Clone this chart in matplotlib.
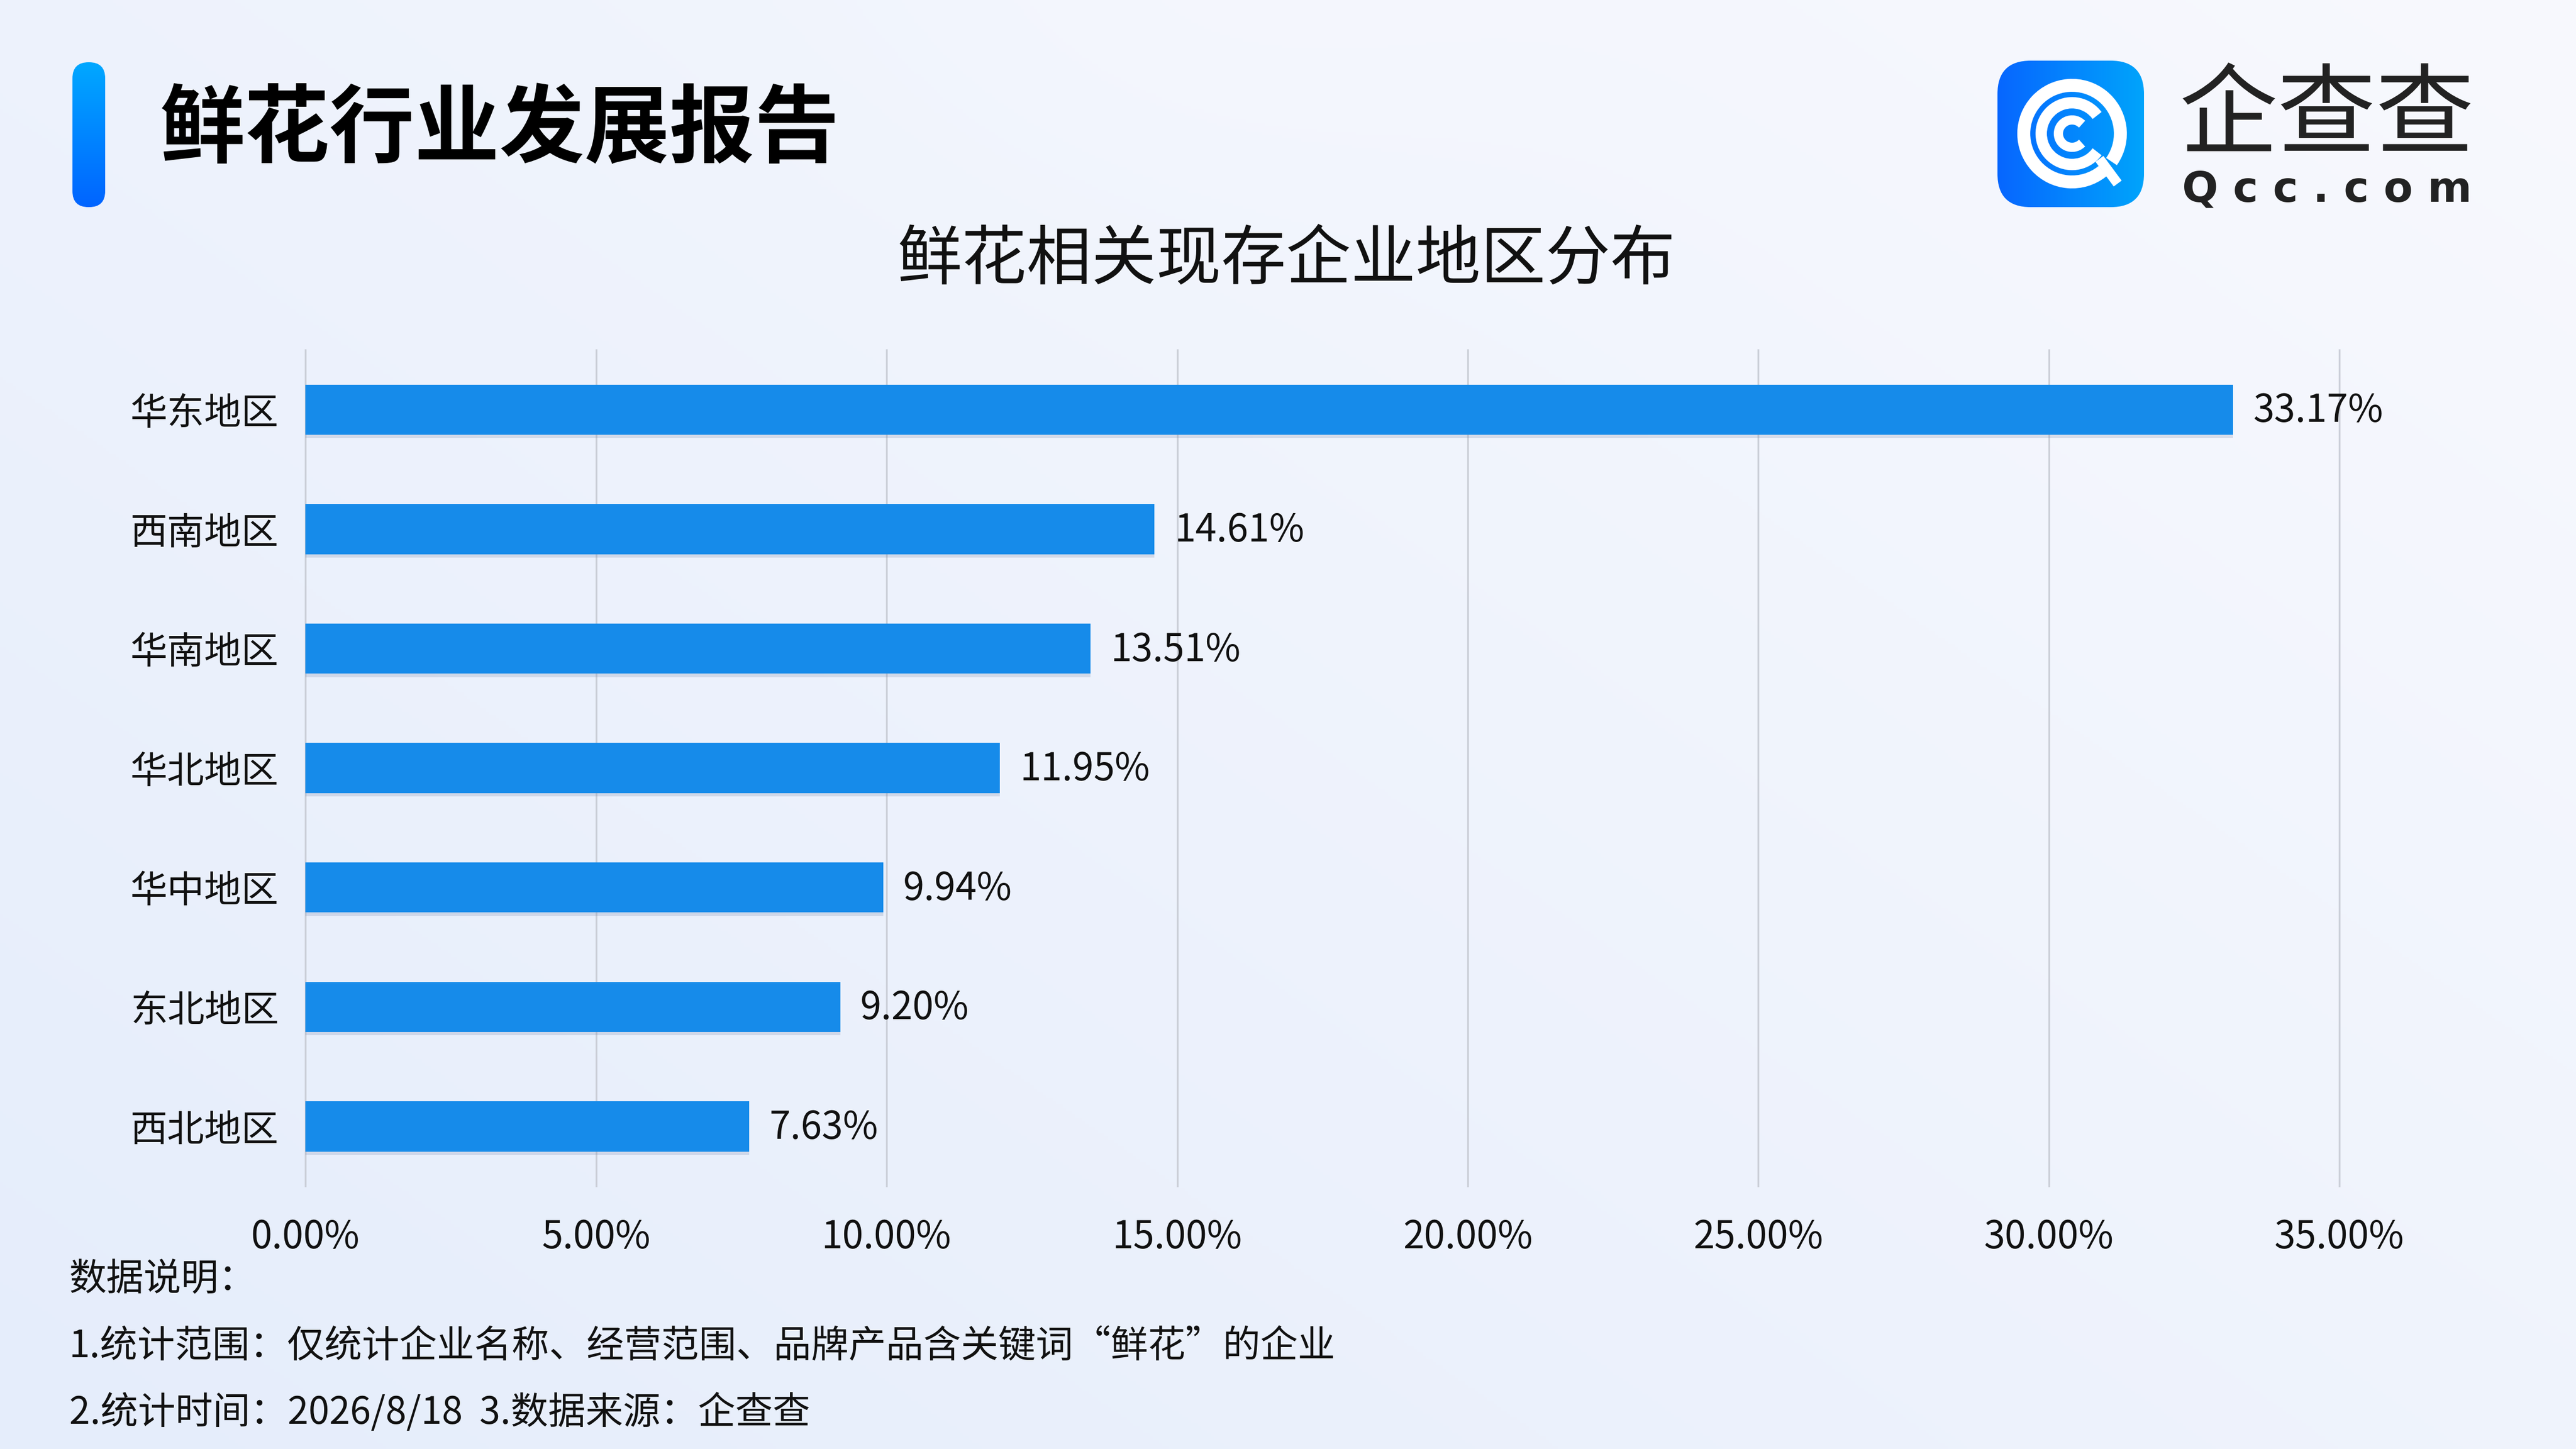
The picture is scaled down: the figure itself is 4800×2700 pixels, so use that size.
import numpy as np
import matplotlib
matplotlib.use("Agg")
import matplotlib.pyplot as plt
import matplotlib.patheffects as pe
from matplotlib.patches import FancyBboxPatch, Wedge

plt.rcParams['font.family'] = ['Noto Sans CJK SC', 'DejaVu Sans']

# data
regions = ["华东地区", "西南地区", "华南地区", "华北地区", "华中地区", "东北地区", "西北地区"]
shares = [33.17, 14.61, 13.51, 11.95, 9.94, 9.20, 7.63]
x_ticks = [0, 5, 10, 15, 20, 25, 30, 35]

title = "鲜花行业发展报告"
subtitle = "鲜花相关现存企业地区分布"
notes = [
    "数据说明：",
    "1.统计范围：仅统计企业名称、经营范围、品牌产品含关键词“鲜花”的企业",
    "2.统计时间：2026/8/18  3.数据来源：企查查",
]
logo_name = "企查查"
logo_url = "Qcc.com"

BAR_COLOR = "#168bea"
GRID_COLOR = "#cbcfd8"
W, H = 4800, 2700


def hex_rgb(h):
    h = h.lstrip("#")
    return np.array([int(h[i:i + 2], 16) / 255 for i in (0, 2, 4)])


def gradient_patch(ax, patch, c1, c2, horizontal=True):
    # fill a patch with a linear gradient by clipping an image to it
    ax.add_patch(patch)
    patch.set_facecolor("none")
    patch.set_edgecolor("none")
    x0, y0 = patch.get_x(), patch.get_y()
    w, h = patch.get_width(), patch.get_height()
    t = np.linspace(0, 1, 256)
    a, b = hex_rgb(c1), hex_rgb(c2)
    if horizontal:
        img = (a[None, :] * (1 - t[:, None]) + b[None, :] * t[:, None])[None, :, :]
    else:
        img = (a[None, :] * (1 - t[:, None]) + b[None, :] * t[:, None])[:, None, :]
    im = ax.imshow(img, extent=(x0, x0 + w, y0 + h, y0), aspect="auto", zorder=1)
    im.set_clip_path(patch)


fig = plt.figure(figsize=(16, 9), dpi=300)

# background layer, pixel coordinates
bg = fig.add_axes([0, 0, 1, 1], zorder=0)
bg.set_xlim(0, W)
bg.set_ylim(H, 0)
bg.axis("off")

yy, xx = np.mgrid[0:H:6, 0:W:6].astype(float)
t = np.clip(0.55 * xx / W + 0.45 * (1 - yy / H), 0, 1)
c_dark, c_light = hex_rgb("#e5edfb"), hex_rgb("#f8f9fe")
img = c_dark * (1 - t[..., None]) + c_light * t[..., None]
blob = np.exp(-(((xx - 2300) / 600) ** 2 + ((yy + 50) / 380) ** 2))
img = img * (1 - 0.5 * blob[..., None]) + hex_rgb("#f6f8fe") * 0.5 * blob[..., None]
bg.imshow(img, extent=(0, W, H, 0), aspect="auto", zorder=0)

# accent bar next to the title
accent = FancyBboxPatch((135, 116), 61, 270, boxstyle="round,pad=0,rounding_size=30")
gradient_patch(bg, accent, "#00a8ff", "#0064ff", horizontal=False)

# logo icon
icon = FancyBboxPatch((3722, 113), 273, 273, boxstyle="round,pad=0,rounding_size=62")
gradient_patch(bg, icon, "#0766ff", "#00a4fb", horizontal=True)
cx, cy = 3861, 249
bg.add_patch(Wedge((cx, cy), 100, 52, 394, width=20, color="white", zorder=3))
bg.add_patch(Wedge((cx, cy), 66, 38, 322, width=17, color="white", zorder=3))
bg.add_patch(Wedge((cx, cy), 32, 48, 312, width=13, color="white", zorder=3))
bg.plot([3912, 3946], [296, 342], color="white", lw=4.4, solid_capstyle="butt", zorder=3)

# title
fig.text(0.0619, 0.9095, title, fontsize=38, fontweight="heavy", color="#000000",
         ha="left", va="center")
fig.text(0.4994, 0.8198, subtitle, fontsize=29, color="#111111", ha="center", va="center")

# logo texts
name_txt = fig.text(0.9034, 0.9150, logo_name, fontsize=44, color="#222222",
                    ha="center", va="center")
url_txt = fig.text(0.9034, 0.8725, " ".join(logo_url), fontsize=19, color="#222222",
                   ha="center", va="center", family=["DejaVu Sans"], fontweight="bold")
# the CJK font reserves a tall descent; nudge the two lines apart just enough
renderer = fig.canvas.get_renderer()
b_name = name_txt.get_window_extent(renderer)
b_url = url_txt.get_window_extent(renderer)
gap = b_name.y0 - b_url.y1
if gap < 2:
    shift = (2 - gap) / 2 / (H)
    name_txt.set_y(0.9150 + shift)
    url_txt.set_y(0.8725 - shift)

# main chart
ax = fig.add_axes([0.1186, 0.1814, 0.9082 - 0.1186, 0.7585 - 0.1814], zorder=2)
ax.patch.set_alpha(0)
ypos = np.arange(len(regions))
bars = ax.barh(ypos, shares, height=0.42, color=BAR_COLOR, zorder=3)
for b in bars:
    b.set_path_effects([pe.SimplePatchShadow(offset=(0, -1.5), shadow_rgbFace="#7f8fb0",
                                             alpha=0.25), pe.Normal()])
for y, v in zip(ypos, shares):
    ax.annotate(f"{v:.2f}%", (v, y), xytext=(9, -0.6), textcoords="offset points",
                va="center", ha="left", fontsize=17, color="#111111", zorder=4)

ax.set_xlim(0, 35)
ax.set_ylim(len(regions) - 0.5, -0.5)
ax.set_xticks(x_ticks)
ax.set_xticklabels([f"{v:.2f}%" for v in x_ticks], fontsize=17, color="#111111")
ax.set_yticks(ypos)
ax.set_yticklabels(regions, fontsize=16.6, color="#111111")
ax.tick_params(axis="both", length=0)
ax.tick_params(axis="x", pad=14)
ax.tick_params(axis="y", pad=12)
ax.xaxis.grid(True, color=GRID_COLOR, lw=0.8, zorder=1)
for gl in ax.get_xgridlines():
    gl.set_clip_on(False)
ax.set_axisbelow(True)
for s in ax.spines.values():
    s.set_visible(False)

# footnotes
for txt, ypos_f in zip(notes, [0.1167, 0.0703, 0.0249]):
    fig.text(0.0268, ypos_f, txt, fontsize=16.75, color="#111111", ha="left", va="center")

fig.savefig("out.png", dpi=300)
